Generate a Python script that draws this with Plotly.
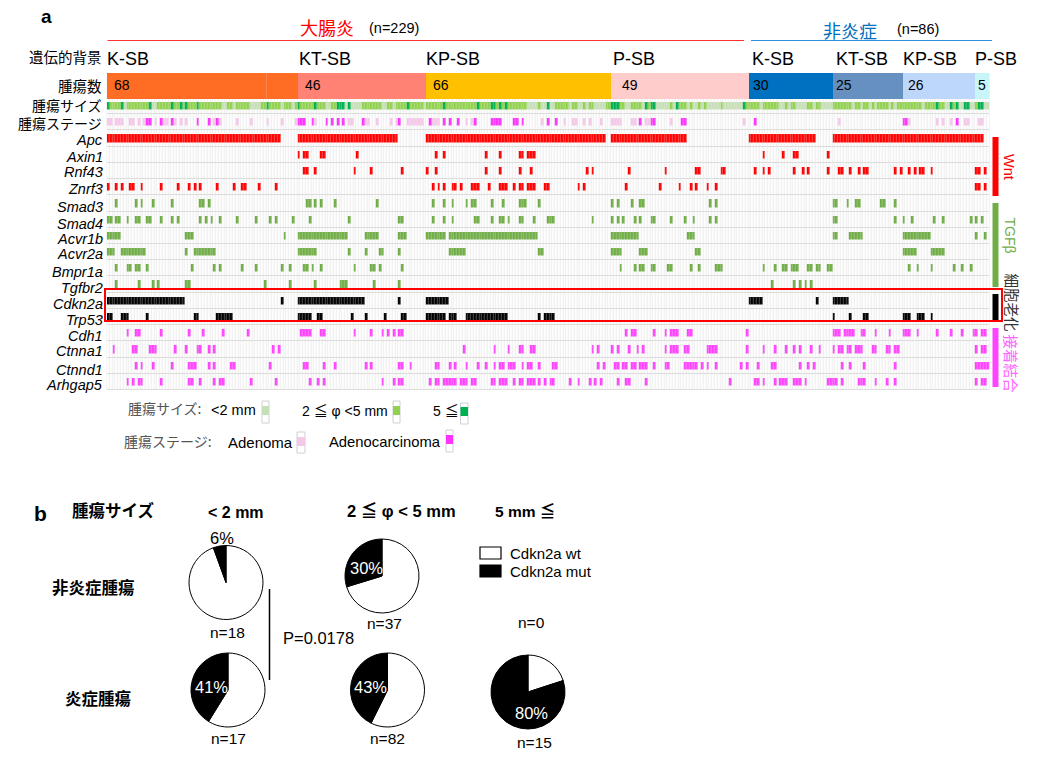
import plotly.graph_objects as go

W, H = 1039, 762
N_TUMORS = 315

GROUP_NAMES = ["K-SB", "KT-SB", "KP-SB", "P-SB", "K-SB", "KT-SB", "KP-SB", "P-SB"]
GROUP_COUNTS = [68, 46, 66, 49, 30, 25, 26, 5]
GROUP_COLORS = ["#FF6C23", "#FF8274", "#FFC000", "#FFCCCC", "#0070C0", "#6690C0", "#BDD7FA", "#C8F5F7"]

SIZE_SMALL = [6, (16, 17), (41, 42), 45, (51, 54), 62, 66, (78, 79), 85, (87, 90), (98, 99), 102, 113,
              (150, 153), (155, 156), (158, 159), 165, (168, 169), 171, (174, 177), (185, 186), 191,
              (196, 200), 202, 207, 209, 210, 212, (214, 218), (220, 226), 233, (240, 241), 243,
              (246, 249), 252, (255, 258), 266, 269, 272, 274, 279, 281, 291, (299, 300), (304, 305),
              (308, 309), (313, 314)]
SIZE_LARGE = [0, 5, 15, 23, 26, 28, 32, 57, 68, 74, (82, 84), 86, 107, 120, 132, 137, 138, 140, 142, 157,
              (180, 182), 192, 194, 195, 203, 227, 296, 301, 303, 306, 307, 311, 312]
STAGE_ADENOMA = [0, 1, (3, 5), 8, 9, 11, 13, 17, 20, 21, 24, 26, 28, 38, 40, 46, 51, 57, 62, 67, 74, 86, 87,
                 92, 93, 96, 101, 103, (107, 112), 116, 117, 118, 128, 130, 155, 163, 166, 167, 170, 172, 176,
                 (180, 183), 187, 188, 192, 193, 201, 227, 261, 286, 296, 298, 301, 306, 307, 311, 312]
STAGE_CARCINOMA = [14, 15, 19, 23, 32, 36, 39, (68, 70), 73, 78, 80, 82, 84, 91, 104, 115, 120, 122, 125, 131,
                   (137, 140), 145, 146, 148, 157, 160, 190, 194, 195, 205, 206, 231, 284, 285, 303]

APC = [(0, 61), (68, 103), (114, 177), (180, 206), (229, 252), (259, 312)]
AXIN1 = [68, 70, 71, 76, 77, 89, 117, 120, 135, 140, 147, 148, (150, 152), 234, 241, 245, 246, 257]
RNF43 = [70, 71, 74, 88, 94, 105, 114, 117, 135, 140, 147, 151, 171, 173, 186, 199, 210, 211, 219, 220, 231,
         234, 236, 245, 248, 250, 257, 261, 262, 265, 268, 270, 271, 281, 283, 286, 288, 290, 291, 294,
         310, 311, 313]
ZNRF3 = [0, 3, 5, 8, 9, 12, 19, 25, 29, 31, 33, 39, 45, 48, 49, 54, 60, 116, 118, 120, 123, 124, 126,
         (130, 132), 136, (140, 142), 145, 147, 148, (150, 152), 156, 157, 168, 170, 185, 197, 204, 208, 210,
         214, 217, 310, 311, 313]
SMAD3 = [3, 10, 12, 16, 23, 33, 34, 36, 71, 72, 74, 76, 81, 96, 116, 120, 123, 128, 130, 131, 137, 141,
         (147, 149), 154, 180, 182, 187, 190, 191, 215, 217, 259, 260, 264, 267, 268, 276, 277, 281]
SMAD4 = [0, 1, 3, 4, 7, 10, 11, 14, 15, 19, 23, 25, 33, 35, 37, 40, 46, 53, 58, 60, 66, 72, 86, 104, 105,
         116, 120, 123, 131, 132, 137, 140, 141, 143, 147, 148, 152, (157, 159), 173, 180, 182, 184, 188, 190,
         194, 195, 201, 206, 209, 215, 217, 259, 260, 281, 284, 287, 295, 298, 308, 310, 312]
ACVR1B = [(0, 4), (28, 30), 63, (68, 85), (92, 96), (104, 106), (114, 120), (122, 153), (180, 189), (207, 209),
          259, 260, (265, 269), (284, 293), 310, 313]
ACVR2A = [(0, 2), (5, 13), 28, (31, 38), (68, 74), 86, 92, 97, 98, 104, (122, 127), 154, 155, (180, 183),
          (190, 192), 210, 211, (284, 288), (294, 298)]
BMPR1A = [3, 7, 8, 10, 11, 14, 30, 38, 40, 48, 53, 62, 65, 70, 71, 73, 76, 88, 94, 95, 97, 105, 183, 188, 190,
          191, 194, 195, 200, 201, 208, 211, (217, 219), 234, 238, 241, 242, (244, 246), 250, 251, 253, 254,
          257, 258, 286, 289, 294, 302, 305, 308]
TGFBR2 = [3, 11, 16, 18, 28, 29, 56, 65, 74, (83, 85), 95, 104, 237, 245, 247, 249, 251]
CDKN2A = [(0, 27), 62, (68, 91), 104, (114, 121), (229, 233), 253, (259, 264)]
TRP53 = [0, 1, (5, 7), 14, 31, 32, (39, 44), (68, 72), 75, 76, 87, 92, 99, 105, 106, (114, 120), (122, 124),
         (128, 142), 154, (156, 159), 259, 265, 270, 271, (284, 286), (289, 291), 294]
CDH1 = [7, 10, 11, 19, 29, 34, 41, 50, (69, 72), 76, 77, 88, 94, 98, 100, 102, 104, 105, 185, 187, 188, 195,
        199, (201, 203), 207, 208, 228, (259, 261), (263, 266), 269, 270, 274, 279, (284, 286), 289, 296, 301,
        305, 309, 310, 312, 313]
CTNNA1 = [2, 9, 10, (15, 17), 24, 28, 32, 33, 36, 38, 59, 61, 127, 138, 143, 147, 148, 151, 152, 173, 175, 180,
          182, 186, 189, 191, 199, (201, 203), 206, 207, (214, 217), 228, 234, 238, 242, 245, 247, 251, 254, 259,
          261, 262, 264, 265, (267, 269), 273, 274, 278, 279, 281, 282, 310, 312, 313]
CTNND1 = [10, 12, 16, 23, (29, 31), 36, 38, 44, 45, 58, 70, 71, 77, 81, 92, 94, 104, 105, 108, 117, 118, 122, 124,
          128, 132, 135, 138, 140, 141, (143, 145), 148, 150, 151, 154, 159, 160, 175, 177, 181, 182, 184, 185,
          187, 188, (190, 192), 195, 199, 200, (206, 210), 212, 214, 217, 226, 228, 232, 237, 238, 247, 250, 252,
          262, 265, 270, 281, (310, 314)]
ARHGAP5 = [7, 9, 11, 12, 19, 29, 30, 33, 38, 40, 41, 51, 60, 72, 75, 77, 98, 102, 104, 105, 115, 117, 118,
           (120, 124), (126, 128), 130, 131, 137, 138, (140, 142), 145, 147, 148, (150, 152), 154, 156, 158, 159,
           165, 168, 172, 174, 176, 182, 185, 186, 192, 222, 231, 232, 234, 238, (240, 242), (245, 247), 249,
           (257, 260), 262, (268, 270), 274, 278, 281, 310, 312, 313]

GENE_NAMES = ["Apc", "Axin1", "Rnf43", "Znrf3", "Smad3", "Smad4", "Acvr1b", "Acvr2a", "Bmpr1a", "Tgfbr2",
              "Cdkn2a", "Trp53", "Cdh1", "Ctnna1", "Ctnnd1", "Arhgap5"]
GENE_MUTS = [APC, AXIN1, RNF43, ZNRF3, SMAD3, SMAD4, ACVR1B, ACVR2A, BMPR1A, TGFBR2, CDKN2A, TRP53, CDH1, CTNNA1,
             CTNND1, ARHGAP5]
GENE_CLASS = [6, 6, 6, 6, 7, 7, 7, 7, 7, 7, 8, 8, 9, 9, 9, 9]

PIE_MUT = [1, 11, 7, 35, 12]
PIE_WT = [17, 26, 10, 47, 3]
PIE_LABELS = ["6%", "30%", "41%", "43%", "80%"]
PIE_N = ["n=18", "n=37", "n=17", "n=82", "n=15"]

FONT = "Liberation Sans, Arial, Noto Sans CJK JP"
JP = "Noto Sans CJK JP, Liberation Sans"


def px(x):
    return x / W


def py(y):
    return 1 - y / H


def expand(items):
    out = []
    for it in items:
        if isinstance(it, tuple):
            out.extend(range(it[0], it[1] + 1))
        else:
            out.append(it)
    return out


ROW_NAMES = ["size", "stage"] + GENE_NAMES
z = [[None] * N_TUMORS for _ in ROW_NAMES]
z[0] = [2] * N_TUMORS
for i in expand(SIZE_SMALL):
    z[0][i] = 1
for i in expand(SIZE_LARGE):
    z[0][i] = 3
for i in expand(STAGE_ADENOMA):
    z[1][i] = 4
for i in expand(STAGE_CARCINOMA):
    z[1][i] = 5
for r, (muts, cls) in enumerate(zip(GENE_MUTS, GENE_CLASS)):
    for i in expand(muts):
        z[r + 2][i] = cls

CLASS_COLORS = ["#C6DFB6", "#92D050", "#00B050", "#F4C8E8", "#FF33FF", "#FF0000", "#70AD47", "#000000", "#FF44FF"]
scale = []
for k, c in enumerate(CLASS_COLORS):
    scale.append([k / 9, c])
    scale.append([(k + 1) / 9, c])

fig = go.Figure()
cols = list(range(N_TUMORS))
blank = [[0] * N_TUMORS for _ in ROW_NAMES]
fig.add_trace(go.Heatmap(z=blank, x=cols, y=ROW_NAMES, showscale=False,
                         colorscale=[[0, "#EFEFEF"], [1, "#EFEFEF"]], ygap=1, hoverinfo="skip"))
fig.add_trace(go.Heatmap(z=blank, x=cols, y=ROW_NAMES, showscale=False,
                         colorscale=[[0, "#FDFDFD"], [1, "#FDFDFD"]], xgap=1, ygap=1, hoverinfo="skip"))
fig.add_trace(go.Heatmap(z=z, x=cols, y=ROW_NAMES, showscale=False, colorscale=scale, zmin=0.5, zmax=9.5,
                         xgap=0.3, ygap=8.5, hoverongaps=False))

start = -0.5
bases = []
for c in GROUP_COUNTS:
    bases.append(start)
    start += c
fig.add_trace(go.Bar(y=[0.5] * len(GROUP_COUNTS), x=GROUP_COUNTS, base=bases, orientation="h", width=1,
                     marker=dict(color=GROUP_COLORS, line=dict(width=0)), yaxis="y2", xaxis="x",
                     hovertext=GROUP_NAMES, showlegend=False))

# Pies
PIE_CENTERS = [(226, 582.5), (382, 576), (228, 690), (387.5, 690), (528, 692)]
R = 37
for (px_c, py_c), mut, wt in zip(PIE_CENTERS, PIE_MUT, PIE_WT):
    fig.add_trace(go.Pie(values=[wt, mut], labels=["Cdkn2a wt", "Cdkn2a mut"], sort=False,
                         direction="clockwise", rotation=0, textinfo="none", showlegend=False,
                         marker=dict(colors=["#FFFFFF", "#000000"], line=dict(color="#000000", width=1)),
                         domain=dict(x=[px(px_c - R), px(px_c + R)], y=[py(py_c + R), py(py_c - R)])))

ann = []


def text(x, y, s, size=14, color="#000000", anchor="left", bold=False, italic=False, font=FONT, angle=0):
    if bold:
        s = "<b>" + s + "</b>"
    if italic:
        s = "<i>" + s + "</i>"
    ann.append(dict(x=px(x), y=py(y), xref="paper", yref="paper", text=s, showarrow=False, xanchor=anchor,
                    yanchor="middle", textangle=angle, font=dict(size=size, color=color, family=font),
                    borderpad=0, borderwidth=0))


text(41, 16, "a", 19, bold=True)
text(327, 27, "大腸炎", 18, "#FF0000", "center", font=JP)
text(369, 28, "(n=229)", 14.5)
text(850, 30, "非炎症", 18, "#0070C0", "center", font=JP)
text(897, 29.5, "(n=86)", 14.5)
text(102, 57, "遺伝的背景", 14.5, anchor="right", font=JP)
text(102, 86, "腫瘍数", 14.5, anchor="right", font=JP)
text(102, 105, "腫瘍サイズ", 14, anchor="right", font=JP)
text(102, 123, "腫瘍ステージ", 14, anchor="right", font=JP)
for name, x in zip(GROUP_NAMES, [107, 299, 426, 613, 752, 836, 903, 975]):
    text(x, 59, name, 18)
for c, x in zip(GROUP_COUNTS, [114, 305, 433, 622, 753, 836, 908, 978]):
    text(x, 85, str(c), 14)
GENE_LABEL_Y = [140, 157, 172, 189, 207, 224, 239, 254, 272, 288, 304, 320, 336, 351, 370, 385]
for g, y in zip(GENE_NAMES, GENE_LABEL_Y):
    text(103, y, g, 14.5, anchor="right", italic=True)

text(1009, 167, "Wnt", 14.5, "#FF0000", "center", angle=90)
text(1010, 235.5, "TGFβ", 14, "#70AD47", "center", angle=90)
text(1011.5, 303, "細胞老化", 14.5, "#333333", "center", font=JP, angle=90)
text(1011.5, 364, "接着結合", 14.5, "#FF66FF", "center", font=JP, angle=90)

text(128, 408, "腫瘍サイズ:", 14, "#555555", font=JP)
text(211, 410, "<2 mm", 14.5)
text(302, 411, "2 ≦ φ <5 mm", 14)
text(433, 411, "5 ≦", 14)
text(124, 441, "腫瘍ステージ:", 14, "#555555", font=JP)
text(228, 442, "Adenoma", 15)
text(329, 442, "Adenocarcinoma", 14.8)

text(34, 513, "b", 21, bold=True)
text(72, 510, "腫瘍サイズ", 16.5, bold=True, font=JP)
text(208, 512, "< 2 mm", 16, bold=True)
text(347, 511, "2 ≦ φ < 5 mm", 16.5, bold=True)
text(495, 511, "5 mm ≦", 15.5, bold=True)
text(93, 587, "非炎症腫瘍", 16.5, anchor="center", bold=True, font=JP)
text(98, 698, "炎症腫瘍", 16.5, anchor="center", bold=True, font=JP)
text(283, 638, "P=0.0178", 16.5)
text(531, 622, "n=0", 15.5, anchor="center")
for s, (x, y) in zip(PIE_N, [(227, 632), (384, 623), (228, 738), (387, 738), (534, 742)]):
    text(x, y, s, 15.5, anchor="center")
for s, (x, y), c in zip(PIE_LABELS, [(222, 538), (366, 568), (211, 687), (370, 687), (531, 713)],
                        ["#000000", "#FFFFFF", "#FFFFFF", "#FFFFFF", "#FFFFFF"]):
    text(x, y, s, 16.5, c, "center")
text(510, 553, "Cdkn2a wt", 15)
text(510, 571, "Cdkn2a mut", 15)

shapes = []


def rect(x0, y0, x1, y1, fill=None, line=None, lw=0):
    shapes.append(dict(type="rect", xref="paper", yref="paper", x0=px(x0), x1=px(x1), y0=py(y1), y1=py(y0),
                       fillcolor=fill or "rgba(0,0,0,0)", line=dict(color=line or "rgba(0,0,0,0)", width=lw)))


def hline(x0, x1, y, color, lw=1):
    shapes.append(dict(type="line", xref="paper", yref="paper", x0=px(x0), x1=px(x1), y0=py(y), y1=py(y),
                       line=dict(color=color, width=lw)))


hline(107.5, 744, 40.5, "#FF3333", 1.2)
hline(751, 992, 40.5, "#3090D8", 1.2)
rect(105, 289, 1002, 321, line="#FF0000", lw=2)
rect(992.5, 137, 998.5, 196, "#FF0000")
rect(992.5, 203, 998.5, 287, "#70AD47")
rect(992.5, 294, 998.5, 320, "#000000")
rect(992.5, 328, 998.5, 387, "#FF44FF")
rect(266, 73, 266.6, 99, "rgba(255,255,255,0.3)")

for x0, x1, y0, y1, yc0, yc1, col in [(262, 269, 401, 423, 406, 415, "#C6DFB6"), (393, 400, 401, 423, 406, 415, "#92D050"),
                                      (460.5, 468, 403, 424, 407, 416, "#00B050"), (297, 305, 432, 453, 437, 446, "#F4C8E8"),
                                      (446, 453, 430, 452, 435, 444, "#FF33FF")]:
    rect(x0, y0, x1, y1, "#FFFFFF", "#D0D0D0", 1)
    rect(x0, yc0, x1, yc1, col)

rect(480, 547, 501, 559, "#FFFFFF", "#000000", 1.2)
rect(480, 565, 501, 577, "#000000", "#000000", 1.2)
shapes.append(dict(type="line", xref="paper", yref="paper", x0=px(269.5), x1=px(269.5), y0=py(589), y1=py(680),
                   line=dict(color="#000000", width=1.5)))

fig.update_layout(
    width=W, height=H, margin=dict(l=0, r=0, t=0, b=0), paper_bgcolor="#FFFFFF", plot_bgcolor="#DCDCDC",
    showlegend=False, bargap=0,
    xaxis=dict(domain=[px(106.8), px(989.3)], range=[-0.5, N_TUMORS - 0.5], showticklabels=False, ticks="",
               showgrid=False, zeroline=False),
    yaxis=dict(domain=[py(390), py(98)], type="category", categoryorder="array", categoryarray=ROW_NAMES,
               range=[len(ROW_NAMES) - 0.5, -0.5], showticklabels=False, ticks="", showgrid=False, zeroline=False),
    yaxis2=dict(domain=[py(99), py(73)], range=[0, 1], showticklabels=False, ticks="", showgrid=False,
                zeroline=False, anchor="x"),
    annotations=ann, shapes=shapes,
)
fig.write_html("out.html", config=dict(displayModeBar=False),
               post_script="document.body.style.margin='0';document.body.style.overflow='hidden';")
